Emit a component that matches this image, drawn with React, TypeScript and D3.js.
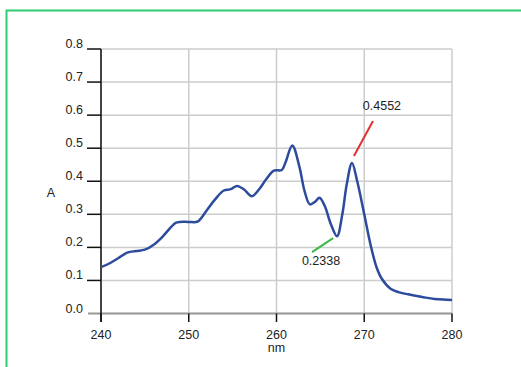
import React from "react";
import * as d3 from "d3";

const wavelength = [240, 241, 242, 243, 244, 245, 246, 247, 248, 248.5, 249, 250, 251, 252, 253, 254, 254.8, 255.5, 256.3, 257.2, 258, 258.8, 259.7, 260.6, 261, 261.8, 262.6, 263.2, 263.8, 264.4, 264.9, 265.5, 266.2, 266.9, 267.5, 268, 268.6, 269.2, 270, 270.7, 271.4, 272, 273, 274, 275, 276, 277, 278, 279, 280];
const absorbance = [0.14, 0.152, 0.168, 0.184, 0.189, 0.193, 0.208, 0.232, 0.262, 0.274, 0.277, 0.277, 0.278, 0.31, 0.345, 0.372, 0.376, 0.386, 0.375, 0.355, 0.375, 0.405, 0.432, 0.434, 0.455, 0.508, 0.445, 0.37, 0.33, 0.338, 0.35, 0.325, 0.27, 0.2338, 0.3, 0.39, 0.4552, 0.4, 0.3, 0.21, 0.14, 0.105, 0.075, 0.064, 0.058, 0.053, 0.048, 0.044, 0.042, 0.041];
const xTicks = [240, 250, 260, 270, 280];
const yTicks = [0, 0.1, 0.2, 0.3, 0.4, 0.5, 0.6, 0.7, 0.8];
const peakLabel = { x: 268.6, y: 0.4552, text: "0.4552" };
const valleyLabel = { x: 266.9, y: 0.2338, text: "0.2338" };

export default function App() {
  const W = 521, H = 367;
  const x = d3.scaleLinear().domain([240, 280]).range([101, 452]);
  const y = d3.scaleLinear().domain([0, 0.8]).range([313.5, 49]);
  const pts = wavelength.map((w, i) => [w, absorbance[i]] as [number, number]);
  const line = d3.line<[number, number]>().x(d => x(d[0])).y(d => y(d[1])).curve(d3.curveCatmullRom.alpha(0.5));
  const font = "'Liberation Sans', Arial, sans-serif";
  const txt = "#222";
  const px = x(peakLabel.x), py = y(peakLabel.y);
  const vx = x(valleyLabel.x), vy = y(valleyLabel.y);
  return (
    <svg width={W} height={H} style={{ position: "absolute", left: 0, top: 0, background: "#fff" }} fontFamily={font}>
      <rect x={6.5} y={10.5} width={W} height={H} fill="#fff" stroke="#2ecc71" strokeWidth={2} />
      {yTicks.map(t => (
        <line key={"gy" + t} x1={101} x2={452} y1={y(t)} y2={y(t)} stroke="#cccccc" strokeWidth={1.5} />
      ))}
      {xTicks.map(t => (
        <line key={"gx" + t} x1={x(t)} x2={x(t)} y1={49} y2={313.5} stroke="#cccccc" strokeWidth={1.5} />
      ))}
      <line x1={88} x2={452} y1={y(0)} y2={y(0)} stroke="#999" strokeWidth={2} />
      {yTicks.map(t => (
        <g key={"ty" + t}>
          {t > 0 && <line x1={87} x2={101} y1={y(t)} y2={y(t)} stroke="#111" strokeWidth={1.5} />}
          <text x={83} y={y(t) - 1} textAnchor="end" fontSize={12.5} fill={txt}>{t.toFixed(1)}</text>
        </g>
      ))}
      {xTicks.map(t => (
        <g key={"tx" + t}>
          <line x1={x(t)} x2={x(t)} y1={313.5} y2={322} stroke="#111" strokeWidth={1.5} />
          <text x={x(t)} y={338.5} textAnchor="middle" fontSize={12.5} fill={txt}>{t}</text>
        </g>
      ))}
      <line x1={101} x2={101} y1={49} y2={322} stroke="#111" strokeWidth={1.5} />
      <text x={x(260)} y={352} textAnchor="middle" fontSize={12.5} fill={txt}>nm</text>
      <text x={51} y={197} textAnchor="middle" fontSize={12.5} fill={txt}>A</text>
      <path d={line(pts) ?? ""} fill="none" stroke="#2d4b9c" strokeWidth={2.5} strokeLinejoin="round" />
      <line x1={px + 2} y1={py - 7} x2={px + 21} y2={py - 42} stroke="#e03030" strokeWidth={2} />
      <text x={px + 30} y={py - 53} textAnchor="middle" fontSize={12.5} fill={txt}>{peakLabel.text}</text>
      <line x1={vx - 4} y1={vy + 2} x2={vx - 25} y2={vy + 16} stroke="#3cb84a" strokeWidth={2} />
      <text x={vx - 16} y={vy + 29} textAnchor="middle" fontSize={12.5} fill={txt}>{valleyLabel.text}</text>
    </svg>
  );
}
